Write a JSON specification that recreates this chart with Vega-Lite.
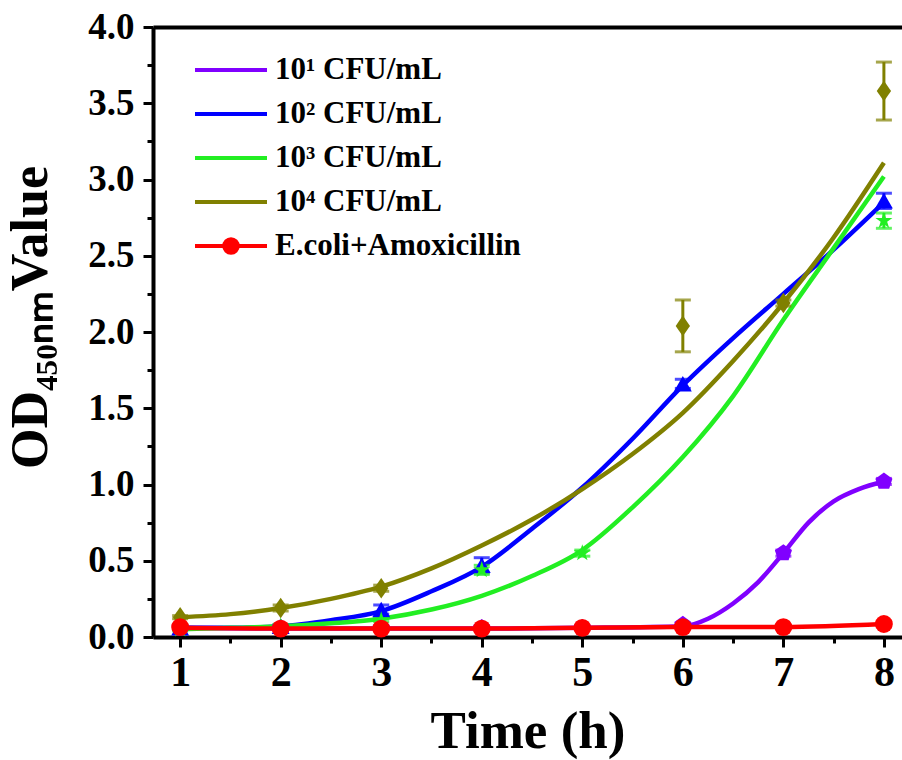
{
  "$schema": "https://vega.github.io/schema/vega-lite/v6.json",
  "width": 749,
  "height": 610,
  "autosize": {"type": "none"},
  "padding": {"left": 153, "top": 27, "right": 0, "bottom": 123},
  "background": "white",
  "config": {
    "view": {"stroke": null},
    "font": "Liberation Serif",
    "axis": {
      "domainColor": "black",
      "domainWidth": 4,
      "tickColor": "black",
      "tickWidth": 3,
      "grid": false,
      "labelFont": "Liberation Serif",
      "labelFontWeight": "bold",
      "labelColor": "black",
      "titleFont": "Liberation Serif",
      "titleFontWeight": "bold",
      "titleColor": "black"
    }
  },
  "datasets": {
    "curves": [
      {"series": "10¹ CFU/mL", "t": 1, "fit": 0.06},
      {"series": "10¹ CFU/mL", "t": 2, "fit": 0.055},
      {"series": "10¹ CFU/mL", "t": 3, "fit": 0.055},
      {"series": "10¹ CFU/mL", "t": 4, "fit": 0.055},
      {"series": "10¹ CFU/mL", "t": 5, "fit": 0.06},
      {"series": "10¹ CFU/mL", "t": 6, "fit": 0.07},
      {"series": "10¹ CFU/mL", "t": 6.25, "fit": 0.12},
      {"series": "10¹ CFU/mL", "t": 6.5, "fit": 0.22},
      {"series": "10¹ CFU/mL", "t": 6.75, "fit": 0.36},
      {"series": "10¹ CFU/mL", "t": 7, "fit": 0.55},
      {"series": "10¹ CFU/mL", "t": 7.25, "fit": 0.75},
      {"series": "10¹ CFU/mL", "t": 7.5, "fit": 0.89},
      {"series": "10¹ CFU/mL", "t": 7.75, "fit": 0.97},
      {"series": "10¹ CFU/mL", "t": 8, "fit": 1.02},
      {"series": "10² CFU/mL", "t": 1, "fit": 0.06},
      {"series": "10² CFU/mL", "t": 1.5, "fit": 0.06},
      {"series": "10² CFU/mL", "t": 2, "fit": 0.07},
      {"series": "10² CFU/mL", "t": 2.5, "fit": 0.11},
      {"series": "10² CFU/mL", "t": 3, "fit": 0.17},
      {"series": "10² CFU/mL", "t": 3.5, "fit": 0.3},
      {"series": "10² CFU/mL", "t": 4, "fit": 0.46},
      {"series": "10² CFU/mL", "t": 4.5, "fit": 0.71},
      {"series": "10² CFU/mL", "t": 5, "fit": 0.98},
      {"series": "10² CFU/mL", "t": 5.5, "fit": 1.3},
      {"series": "10² CFU/mL", "t": 6, "fit": 1.65},
      {"series": "10² CFU/mL", "t": 6.5, "fit": 1.96},
      {"series": "10² CFU/mL", "t": 7, "fit": 2.25},
      {"series": "10² CFU/mL", "t": 7.5, "fit": 2.54},
      {"series": "10² CFU/mL", "t": 8, "fit": 2.85},
      {"series": "10³ CFU/mL", "t": 1, "fit": 0.05},
      {"series": "10³ CFU/mL", "t": 1.5, "fit": 0.06},
      {"series": "10³ CFU/mL", "t": 2, "fit": 0.07},
      {"series": "10³ CFU/mL", "t": 2.5, "fit": 0.09},
      {"series": "10³ CFU/mL", "t": 3, "fit": 0.12},
      {"series": "10³ CFU/mL", "t": 3.5, "fit": 0.18},
      {"series": "10³ CFU/mL", "t": 4, "fit": 0.27},
      {"series": "10³ CFU/mL", "t": 4.5, "fit": 0.4},
      {"series": "10³ CFU/mL", "t": 5, "fit": 0.57},
      {"series": "10³ CFU/mL", "t": 5.5, "fit": 0.85},
      {"series": "10³ CFU/mL", "t": 6, "fit": 1.18},
      {"series": "10³ CFU/mL", "t": 6.5, "fit": 1.58},
      {"series": "10³ CFU/mL", "t": 7, "fit": 2.08},
      {"series": "10³ CFU/mL", "t": 7.5, "fit": 2.55},
      {"series": "10³ CFU/mL", "t": 8, "fit": 3.02},
      {"series": "10⁴ CFU/mL", "t": 1, "fit": 0.13},
      {"series": "10⁴ CFU/mL", "t": 1.5, "fit": 0.15},
      {"series": "10⁴ CFU/mL", "t": 2, "fit": 0.19},
      {"series": "10⁴ CFU/mL", "t": 2.5, "fit": 0.25},
      {"series": "10⁴ CFU/mL", "t": 3, "fit": 0.33},
      {"series": "10⁴ CFU/mL", "t": 3.5, "fit": 0.45},
      {"series": "10⁴ CFU/mL", "t": 4, "fit": 0.6},
      {"series": "10⁴ CFU/mL", "t": 4.5, "fit": 0.77},
      {"series": "10⁴ CFU/mL", "t": 5, "fit": 0.97},
      {"series": "10⁴ CFU/mL", "t": 5.5, "fit": 1.2},
      {"series": "10⁴ CFU/mL", "t": 6, "fit": 1.47},
      {"series": "10⁴ CFU/mL", "t": 6.5, "fit": 1.81},
      {"series": "10⁴ CFU/mL", "t": 7, "fit": 2.19},
      {"series": "10⁴ CFU/mL", "t": 7.5, "fit": 2.62},
      {"series": "10⁴ CFU/mL", "t": 8, "fit": 3.11},
      {"series": "E.coli+Amoxicillin", "t": 1, "fit": 0.06},
      {"series": "E.coli+Amoxicillin", "t": 2, "fit": 0.055},
      {"series": "E.coli+Amoxicillin", "t": 3, "fit": 0.055},
      {"series": "E.coli+Amoxicillin", "t": 4, "fit": 0.055},
      {"series": "E.coli+Amoxicillin", "t": 5, "fit": 0.06},
      {"series": "E.coli+Amoxicillin", "t": 6, "fit": 0.065},
      {"series": "E.coli+Amoxicillin", "t": 7, "fit": 0.065},
      {"series": "E.coli+Amoxicillin", "t": 8, "fit": 0.085}
    ],
    "points": [
      {"series": "10¹ CFU/mL", "t": 1, "od": 0.06, "sd": 0.01},
      {"series": "10¹ CFU/mL", "t": 2, "od": 0.06, "sd": 0.01},
      {"series": "10¹ CFU/mL", "t": 3, "od": 0.06, "sd": 0.01},
      {"series": "10¹ CFU/mL", "t": 4, "od": 0.06, "sd": 0.01},
      {"series": "10¹ CFU/mL", "t": 5, "od": 0.06, "sd": 0.01},
      {"series": "10¹ CFU/mL", "t": 6, "od": 0.08, "sd": 0.01},
      {"series": "10¹ CFU/mL", "t": 7, "od": 0.55, "sd": 0.02},
      {"series": "10¹ CFU/mL", "t": 8, "od": 1.02, "sd": 0.02},
      {"series": "10² CFU/mL", "t": 1, "od": 0.06, "sd": 0.01},
      {"series": "10² CFU/mL", "t": 2, "od": 0.07, "sd": 0.01},
      {"series": "10² CFU/mL", "t": 3, "od": 0.18, "sd": 0.03},
      {"series": "10² CFU/mL", "t": 4, "od": 0.47, "sd": 0.05},
      {"series": "10² CFU/mL", "t": 6, "od": 1.66, "sd": 0.03},
      {"series": "10² CFU/mL", "t": 8, "od": 2.86, "sd": 0.05},
      {"series": "10³ CFU/mL", "t": 1, "od": 0.05, "sd": 0.01},
      {"series": "10³ CFU/mL", "t": 2, "od": 0.07, "sd": 0.01},
      {"series": "10³ CFU/mL", "t": 3, "od": 0.11, "sd": 0.01},
      {"series": "10³ CFU/mL", "t": 4, "od": 0.44, "sd": 0.03},
      {"series": "10³ CFU/mL", "t": 5, "od": 0.55, "sd": 0.02},
      {"series": "10³ CFU/mL", "t": 8, "od": 2.73, "sd": 0.05},
      {"series": "10⁴ CFU/mL", "t": 1, "od": 0.13, "sd": 0.01},
      {"series": "10⁴ CFU/mL", "t": 2, "od": 0.19, "sd": 0.02},
      {"series": "10⁴ CFU/mL", "t": 3, "od": 0.32, "sd": 0.02},
      {"series": "10⁴ CFU/mL", "t": 6, "od": 2.04, "sd": 0.17},
      {"series": "10⁴ CFU/mL", "t": 7, "od": 2.19, "sd": 0.02},
      {"series": "10⁴ CFU/mL", "t": 8, "od": 3.58, "sd": 0.19},
      {"series": "E.coli+Amoxicillin", "t": 1, "od": 0.065, "sd": 0.01},
      {"series": "E.coli+Amoxicillin", "t": 2, "od": 0.055, "sd": 0.01},
      {"series": "E.coli+Amoxicillin", "t": 3, "od": 0.055, "sd": 0.01},
      {"series": "E.coli+Amoxicillin", "t": 4, "od": 0.055, "sd": 0.01},
      {"series": "E.coli+Amoxicillin", "t": 5, "od": 0.06, "sd": 0.01},
      {"series": "E.coli+Amoxicillin", "t": 6, "od": 0.065, "sd": 0.01},
      {"series": "E.coli+Amoxicillin", "t": 7, "od": 0.065, "sd": 0.01},
      {"series": "E.coli+Amoxicillin", "t": 8, "od": 0.085, "sd": 0.02}
    ]
  },
  "layer": [
    {
      "data": {"name": "curves"},
      "mark": {"type": "line", "interpolate": "monotone", "strokeWidth": 4.5},
      "encoding": {
        "x": {
          "field": "t", "type": "quantitative",
          "scale": {"domain": [0.73, 8.18], "nice": false, "zero": false},
          "axis": {
            "orient": "bottom", "values": [1, 2, 3, 4, 5, 6, 7, 8],
            "tickSize": 10, "labelFontSize": 42, "labelPadding": 5,
            "title": "Time (h)", "titleFontSize": 53, "titlePadding": 12
          }
        },
        "y": {
          "field": "fit", "type": "quantitative",
          "scale": {"domain": [0, 4], "nice": false, "zero": true},
          "axis": {
            "orient": "left", "values": [0, 0.5, 1, 1.5, 2, 2.5, 3, 3.5, 4],
            "format": ".1f", "tickSize": 10, "labelFontSize": 37, "labelPadding": 9,
            "title": "OD₄₅₀ₙₘValue", "titleFontSize": 52, "titlePadding": 30,
            "titleY": 290
          }
        },
        "color": {
          "field": "series", "type": "nominal",
          "scale": {
            "domain": ["10¹ CFU/mL", "10² CFU/mL", "10³ CFU/mL", "10⁴ CFU/mL", "E.coli+Amoxicillin"],
            "range": ["#8000FF", "#0000FF", "#22EE22", "#808000", "#FF0000"]
          },
          "legend": {
            "orient": "none", "legendX": 61, "legendY": 26,
            "title": null,
            "symbolType": "M-2.4,0H2.4",
            "symbolSize": 900,
            "symbolStrokeWidth": 4,
            "labelFont": "Liberation Serif", "labelFontWeight": "bold",
            "labelFontSize": 31, "labelColor": "black", "labelOffset": 27,
            "labelLimit": 500,
            "rowPadding": 12,
            "encode": {
              "symbols": {
                "update": {
                  "shape": {"signal": "datum.value === 'E.coli+Amoxicillin' ? 'M-2.4,0H2.4M-0.45,0A0.45,0.45,0,1,1,0.45,0A0.45,0.45,0,1,1,-0.45,0Z' : 'M-2.4,0H2.4'"},
                  "fill": {"signal": "datum.value === 'E.coli+Amoxicillin' ? '#FF0000' : 'transparent'"},
                  "stroke": {"scale": "color", "field": "value"},
                  "strokeWidth": {"value": 4},
                  "opacity": {"value": 1}
                }
              }
            }
          }
        }
      }
    },
    {
      "data": {"name": "points"},
      "mark": {"type": "errorbar", "ticks": {"size": 16}, "thickness": 3},
      "encoding": {
        "x": {"field": "t", "type": "quantitative", "axis": null},
        "y": {"field": "od", "type": "quantitative", "axis": null},
        "yError": {"field": "sd"},
        "color": {"field": "series", "type": "nominal", "legend": null}
      }
    },
    {
      "data": {"name": "points"},
      "mark": {"type": "point", "filled": true, "opacity": 1, "size": 320},
      "encoding": {
        "x": {"field": "t", "type": "quantitative", "axis": null},
        "y": {"field": "od", "type": "quantitative", "axis": null},
        "color": {"field": "series", "type": "nominal", "legend": null},
        "shape": {
          "field": "series", "type": "nominal", "legend": null,
          "scale": {
            "domain": ["10¹ CFU/mL", "10² CFU/mL", "10³ CFU/mL", "10⁴ CFU/mL", "E.coli+Amoxicillin"],
            "range": [
              "M0,-1L0.951,-0.309L0.588,0.809L-0.588,0.809L-0.951,-0.309Z",
              "triangle-up",
              "M0,-1L0.225,-0.309L0.951,-0.309L0.363,0.118L0.588,0.809L0,0.382L-0.588,0.809L-0.363,0.118L-0.951,-0.309L-0.225,-0.309Z",
              "M0,-1.15L0.8,0L0,1.15L-0.8,0Z",
              "circle"
            ]
          }
        }
      }
    },
    {
      "data": {"name": "points"},
      "mark": {"type": "point", "opacity": 0},
      "encoding": {
        "x": {
          "field": "t", "type": "quantitative",
          "axis": {"orient": "bottom", "values": [1.5, 2.5, 3.5, 4.5, 5.5, 6.5, 7.5], "labels": false, "domain": false, "tickSize": 6, "title": null}
        },
        "y": {
          "field": "od", "type": "quantitative",
          "axis": {"orient": "left", "values": [0.25, 0.75, 1.25, 1.75, 2.25, 2.75, 3.25, 3.75], "labels": false, "domain": false, "tickSize": 6, "title": null}
        }
      }
    },
    {
      "data": {"name": "points"},
      "mark": {"type": "point", "opacity": 0},
      "encoding": {
        "x": {
          "field": "t", "type": "quantitative",
          "axis": {"orient": "top", "labels": false, "ticks": false, "domain": true, "title": null}
        },
        "y": {"field": "od", "type": "quantitative", "axis": null}
      }
    }
  ],
  "resolve": {"axis": {"x": "independent", "y": "independent"}, "scale": {"shape": "independent"}}
}
